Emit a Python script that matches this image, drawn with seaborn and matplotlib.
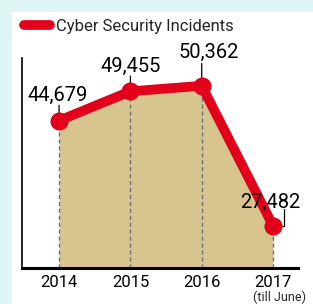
import matplotlib
matplotlib.use("Agg")
import matplotlib.pyplot as plt
import seaborn as sns
import pandas as pd
from matplotlib.patches import Rectangle

years = ["2014", "2015", "2016", "2017"]
tick_labels = ["2014", "2015", "2016", "2017\n(till June)"]
incidents = [44679, 49455, 50362, 27482]
value_labels = ["44,679", "49,455", "50,362", "27,482"]
series_name = "Cyber Security Incidents"

sns.set_style("white")
plt.rcParams['font.family'] = ['Roboto', 'DejaVu Sans']

RED = "#e2001a"
TAN = "#d8c48f"
BG = "#dff6f5"

W, H = 313, 304
fig = plt.figure(figsize=(W / 100, H / 100), dpi=100)
fig.patch.set_facecolor(BG)
fig.add_artist(Rectangle((12 / W, 0), 1 - 12 / W, 1 - 12 / H, transform=fig.transFigure,
                         facecolor="white", edgecolor="none", zorder=0))

ax = fig.add_axes([22 / W, 36 / H, (298 - 22) / W, (268 - 58) / H])
ax.set_facecolor("none")

df = pd.DataFrame({"x": range(len(years)), "y": incidents})
ymin, ymax = 20600, 54900
ax.fill_between(df["x"], df["y"], ymin, color=TAN, zorder=1, linewidth=0)
for xi, yi in zip(df["x"], df["y"]):
    ax.plot([xi, xi], [ymin, yi], color="#6b7278", lw=1.0, ls=(0, (3, 2)), zorder=2)
sns.lineplot(data=df, x="x", y="y", ax=ax, color=RED, lw=7, marker="o", markersize=13,
             markeredgewidth=0, zorder=3, legend=False, solid_joinstyle="round",
             solid_capstyle="round")

ax.set_xlim(-0.52, 3.35)
ax.set_ylim(ymin, ymax)
ax.set_xticks(df["x"])
ax.set_xticklabels([])
ax.set_yticks([])
ax.set_xlabel("")
ax.set_ylabel("")
for s in ["top", "right"]:
    ax.spines[s].set_visible(False)
ax.spines["left"].set_color("black")
ax.spines["left"].set_linewidth(1.2)
ax.spines["bottom"].set_color("black")
ax.spines["bottom"].set_linewidth(2.2)
ax.tick_params(axis="x", length=0)

tfont = dict(fontsize=12, color="black")
for xi, lab in zip(df["x"], tick_labels):
    main = lab.split("\n")[0]
    ax.text(xi, -0.035, main, transform=ax.get_xaxis_transform(), ha="center", va="top", **tfont)
    if "\n" in lab:
        ax.text(xi + 0.09, -0.108, lab.split("\n")[1], transform=ax.get_xaxis_transform(),
                ha="center", va="top", fontsize=9)

lfont = dict(fontsize=14.5, color="black")
offsets = [(-1, 11), (0, 11), (5, 17), (-2, 10)]
for xi, yi, lab, (dx, dy) in zip(df["x"], df["y"], value_labels, offsets):
    ax.annotate(lab, (xi, yi), xytext=(dx, dy), textcoords="offset points",
                ha="center", va="bottom", zorder=5, **lfont)
# connectors
conn = [(0, 11), (0, 11), (0, 16)]
for xi, yi, (dx, dy) in zip(df["x"][:3], df["y"][:3], conn):
    ax.annotate("", (xi, yi), xytext=(dx, dy), textcoords="offset points",
                arrowprops=dict(arrowstyle="-", color="black", lw=0.9, shrinkA=0, shrinkB=0), zorder=2)
ax.annotate("", (3, incidents[3]), xytext=(8, 12), textcoords="offset points",
            arrowprops=dict(arrowstyle="-", color="black", lw=0.9, shrinkA=0, shrinkB=0,
                            connectionstyle="angle,angleA=-90,angleB=0,rad=0"), zorder=2)

# legend
fig.add_artist(plt.Line2D([24 / W, 50 / W], [1 - 25 / H, 1 - 25 / H], transform=fig.transFigure,
                          color=RED, lw=7, solid_capstyle="round"))
fig.text(56 / W, 1 - 26 / H, series_name, ha="left", va="center", fontsize=12)

fig.savefig("out.png", dpi=100, facecolor=BG)
